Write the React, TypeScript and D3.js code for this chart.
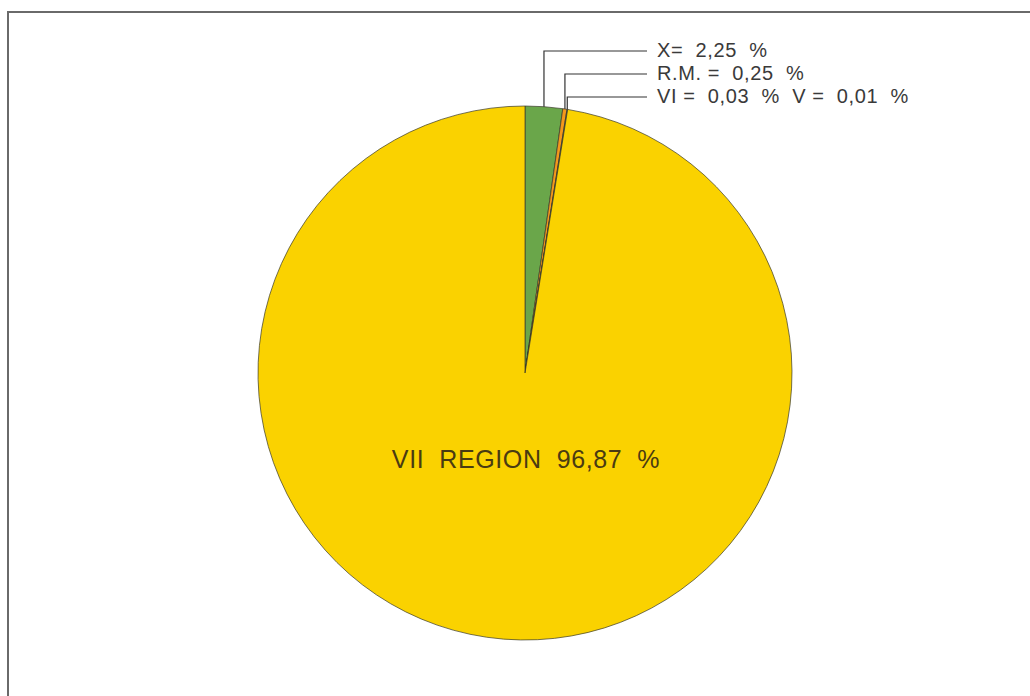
import React from "react";
import * as d3 from "d3";

// data
const regions = ["X", "R.M.", "VI", "V", "VII REGION"];
const shares = [2.25, 0.25, 0.03, 0.01, 96.87];
const labels = ["X=  2,25  %", "R.M. =  0,25  %", "VI =  0,03  %  V =  0,01  %", "", "VII  REGION  96,87  %"];
const colors = ["#6aa64a", "#f4981c", "#ffffff", "#ffffff", "#fad200"];

const W = 1030, H = 696;
const cx = 525, cy = 373, R = 267;
const font = "Liberation Sans, Arial, Helvetica, sans-serif";

export default function App() {
  const data = regions.map((r, i) => ({ region: r, value: shares[i], label: labels[i], color: colors[i] }));
  const pie = d3.pie<any>().sort(null).value(d => d.value);
  const arcs = pie(data);
  const arc = d3.arc<any>().innerRadius(0).outerRadius(R);

  // leader rows for the small slices
  const rowY = d3.scalePoint<number>().domain([0, 1, 2]).range([51, 97]);
  const textX = 657, lineEnd = 647;

  return (
    <svg width={W} height={H} style={{ position: "fixed", left: 0, top: 0, background: "#fff" }}>
      <rect x={0} y={0} width={W} height={H} fill="#fff" />
      <path d={`M8,${H} V12 H${W}`} fill="none" stroke="#6a6a6a" strokeWidth={2} />
      <g transform={`translate(${cx},${cy})`}>
        {arcs.map((a, i) => (
          <path key={i} d={arc(a) as string} fill={a.data.color} stroke="#3a3a2a" strokeWidth={0.7} />
        ))}
      </g>
      {arcs.slice(0, 3).map((a, i) => {
        const mid = (a.startAngle + a.endAngle) / 2;
        const px = cx + R * Math.sin(mid);
        const py = cy - R * Math.cos(mid);
        const y = rowY(i) as number;
        return (
          <g key={i}>
            <path d={`M${px},${py} V${y} H${lineEnd}`} fill="none" stroke="#333" strokeWidth={1.2} />
            <text x={textX} y={y + 6} fontFamily={font} fontSize={20} letterSpacing={0.6}
              fill="#3a3a3a" style={{ whiteSpace: "pre" }}>{a.data.label}</text>
          </g>
        );
      })}
      <text x={cx + 1} y={468} textAnchor="middle" fontFamily={font} fontSize={25} letterSpacing={0.6}
        fill="#4a3b12" style={{ whiteSpace: "pre" }}>{labels[4]}</text>
    </svg>
  );
}
